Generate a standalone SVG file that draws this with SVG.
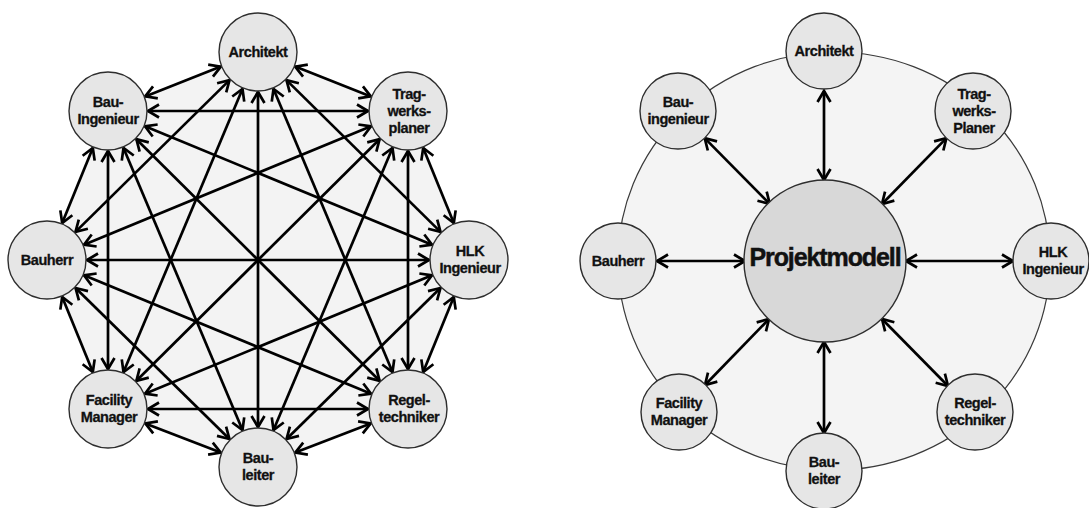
<svg xmlns="http://www.w3.org/2000/svg" width="1089" height="508" viewBox="0 0 1089 508">
  <style>
    .bg { fill: #ffffff; }
    .area { fill: #f3f3f3; stroke: none; }
    .ring { fill: #f4f4f4; stroke: #3a3a3a; stroke-width: 1.2; }
    .node { fill: #e6e6e6; stroke: #2e2e2e; stroke-width: 1.4; }
    .hub { fill: #d8d8d8; stroke: #2e2e2e; stroke-width: 1.4; }
    .link { stroke: #000; stroke-width: 2.7; fill: none; marker-start: url(#tip); marker-end: url(#tip); }
    .lbl { font-family: "Liberation Sans", Arial, sans-serif; font-weight: bold; font-size: 14.5px; letter-spacing: -0.45px; fill: #111; stroke: #111; stroke-width: 0.3; text-anchor: middle; }
    .big { font-family: "Liberation Sans", Arial, sans-serif; font-weight: bold; font-size: 25px; letter-spacing: -1.1px; fill: #111; stroke: #111; stroke-width: 0.5; text-anchor: middle; }
  </style>
  <defs>
    <marker id="tip" markerUnits="userSpaceOnUse" viewBox="-14 -9 16 18" markerWidth="16" markerHeight="18" refX="0" refY="0" orient="auto-start-reverse" overflow="visible">
      <path d="M-11,-6.5 L0,0 L-11,6.5" fill="none" stroke="#000" stroke-width="2.7" stroke-linejoin="miter"/>
    </marker>
  </defs>

  <rect class="bg" x="0" y="0" width="1089" height="508"/>

  <!-- left: every participant talks to every other one -->
  <polygon class="area" points="258,52 408,111 469,260 408,409 258,467 108,409 47,260 108,111"/>

  <g id="connectors-left">
    <line class="link" x1="295.2" y1="66.6" x2="370.8" y2="96.4"/>
    <line class="link" x1="286.5" y1="80.1" x2="440.5" y2="231.9"/>
    <line class="link" x1="273.5" y1="88.9" x2="392.5" y2="372.1"/>
    <line class="link" x1="258" y1="92" x2="258" y2="427"/>
    <line class="link" x1="242.5" y1="88.9" x2="123.5" y2="372.1"/>
    <line class="link" x1="229.5" y1="80.1" x2="75.5" y2="231.9"/>
    <line class="link" x1="220.8" y1="66.6" x2="145.2" y2="96.4"/>
    <line class="link" x1="423.2" y1="148" x2="453.8" y2="223"/>
    <line class="link" x1="408" y1="151" x2="408" y2="369"/>
    <line class="link" x1="392.5" y1="147.9" x2="273.5" y2="430.1"/>
    <line class="link" x1="379.6" y1="139.2" x2="136.4" y2="380.8"/>
    <line class="link" x1="371" y1="126.3" x2="84" y2="244.7"/>
    <line class="link" x1="368" y1="111" x2="148" y2="111"/>
    <line class="link" x1="453.8" y1="297" x2="423.2" y2="372"/>
    <line class="link" x1="440.4" y1="288" x2="286.6" y2="439"/>
    <line class="link" x1="432" y1="275.3" x2="145" y2="393.7"/>
    <line class="link" x1="429" y1="260" x2="87" y2="260"/>
    <line class="link" x1="432" y1="244.7" x2="145" y2="126.3"/>
    <line class="link" x1="370.7" y1="423.4" x2="295.3" y2="452.6"/>
    <line class="link" x1="368" y1="409" x2="148" y2="409"/>
    <line class="link" x1="371" y1="393.7" x2="84" y2="275.3"/>
    <line class="link" x1="379.6" y1="380.8" x2="136.4" y2="139.2"/>
    <line class="link" x1="220.7" y1="452.6" x2="145.3" y2="423.4"/>
    <line class="link" x1="229.4" y1="439" x2="75.6" y2="288"/>
    <line class="link" x1="242.5" y1="430.1" x2="123.5" y2="147.9"/>
    <line class="link" x1="92.8" y1="372" x2="62.2" y2="297"/>
    <line class="link" x1="108" y1="369" x2="108" y2="151"/>
    <line class="link" x1="62.2" y1="223" x2="92.8" y2="148"/>
  </g>

  <g id="l-architekt">
    <circle class="node" cx="258" cy="52" r="39"/>
    <text class="lbl" x="258" y="57">Architekt</text>
  </g>
  <g id="l-tragwerksplaner">
    <circle class="node" cx="408" cy="111" r="39"/>
    <text class="lbl" x="409" y="99">Trag-</text>
    <text class="lbl" x="409" y="116">werks-</text>
    <text class="lbl" x="409" y="133">planer</text>
  </g>
  <g id="l-hlk">
    <circle class="node" cx="469" cy="260" r="39"/>
    <text class="lbl" x="470" y="256">HLK</text>
    <text class="lbl" x="470" y="273">Ingenieur</text>
  </g>
  <g id="l-regeltechniker">
    <circle class="node" cx="408" cy="409" r="39"/>
    <text class="lbl" x="409" y="405">Regel-</text>
    <text class="lbl" x="409" y="422">techniker</text>
  </g>
  <g id="l-bauleiter">
    <circle class="node" cx="258" cy="467" r="39"/>
    <text class="lbl" x="258" y="463">Bau-</text>
    <text class="lbl" x="258" y="480">leiter</text>
  </g>
  <g id="l-facility">
    <circle class="node" cx="108" cy="409" r="39"/>
    <text class="lbl" x="109" y="405">Facility</text>
    <text class="lbl" x="109" y="422">Manager</text>
  </g>
  <g id="l-bauherr">
    <circle class="node" cx="47" cy="260" r="39"/>
    <text class="lbl" x="47" y="265">Bauherr</text>
  </g>
  <g id="l-bauingenieur">
    <circle class="node" cx="108" cy="111" r="39"/>
    <text class="lbl" x="108" y="107">Bau-</text>
    <text class="lbl" x="108" y="124">Ingenieur</text>
  </g>

  <!-- right: everyone works through the shared project model -->
  <ellipse class="ring" cx="834" cy="261" rx="216" ry="209"/>

  <g id="connectors-right">
    <line class="link" x1="824" y1="91" x2="824" y2="180"/>
    <line class="link" x1="704.7" y1="138.1" x2="769.8" y2="204"/>
    <line class="link" x1="946.4" y1="138.1" x2="882" y2="204"/>
    <line class="link" x1="657" y1="261" x2="745" y2="261"/>
    <line class="link" x1="1013" y1="261" x2="906" y2="261"/>
    <line class="link" x1="705" y1="385" x2="769" y2="319"/>
    <line class="link" x1="948" y1="386" x2="882" y2="319"/>
    <line class="link" x1="824" y1="433" x2="824" y2="342"/>
  </g>

  <g id="r-projektmodell">
    <circle class="hub" cx="825" cy="261" r="81"/>
    <text class="big" x="825" y="266">Projektmodell</text>
  </g>
  <g id="r-architekt">
    <circle class="node" cx="824" cy="51" r="38"/>
    <text class="lbl" x="824" y="56">Architekt</text>
  </g>
  <g id="r-tragwerksplaner">
    <circle class="node" cx="973" cy="111" r="38"/>
    <text class="lbl" x="974" y="99">Trag-</text>
    <text class="lbl" x="974" y="116">werks-</text>
    <text class="lbl" x="974" y="133">Planer</text>
  </g>
  <g id="r-hlk">
    <circle class="node" cx="1051" cy="261" r="38"/>
    <text class="lbl" x="1053" y="257">HLK</text>
    <text class="lbl" x="1053" y="274">Ingenieur</text>
  </g>
  <g id="r-regeltechniker">
    <circle class="node" cx="975" cy="412" r="38"/>
    <text class="lbl" x="975" y="408">Regel-</text>
    <text class="lbl" x="975" y="425">techniker</text>
  </g>
  <g id="r-bauleiter">
    <circle class="node" cx="824" cy="471" r="38"/>
    <text class="lbl" x="824" y="467">Bau-</text>
    <text class="lbl" x="824" y="484">leiter</text>
  </g>
  <g id="r-facility">
    <circle class="node" cx="679" cy="412" r="38"/>
    <text class="lbl" x="679" y="408">Facility</text>
    <text class="lbl" x="679" y="425">Manager</text>
  </g>
  <g id="r-bauherr">
    <circle class="node" cx="618" cy="261" r="38"/>
    <text class="lbl" x="618" y="266">Bauherr</text>
  </g>
  <g id="r-bauingenieur">
    <circle class="node" cx="678" cy="111" r="38"/>
    <text class="lbl" x="678" y="107">Bau-</text>
    <text class="lbl" x="678" y="124">ingenieur</text>
  </g>
</svg>
